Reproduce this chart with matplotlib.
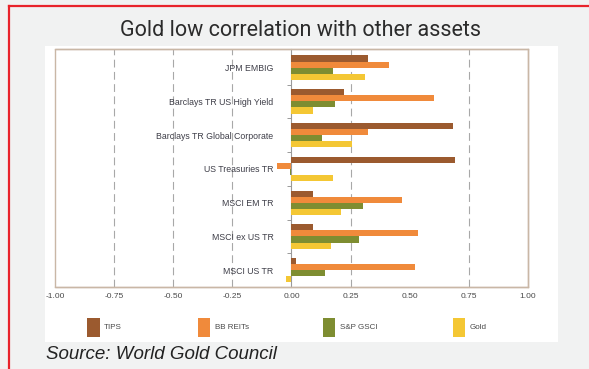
import numpy as np
import matplotlib
matplotlib.use("Agg")
import matplotlib.pyplot as plt
from matplotlib.patches import Rectangle

# ── data (top to bottom) ────────────────────────────────
categories = ["JPM EMBIG", "Barclays TR US High Yield", "Barclays TR Global Corporate",
              "US Treasuries TR", "MSCI EM TR", "MSCI ex US TR", "MSCI US TR"]
series = ["TIPS", "BB REITs", "S&P GSCI", "Gold"]
tips = [0.325, 0.223, 0.685, 0.693, 0.090, 0.090, 0.017]
reits = [0.414, 0.602, 0.325, -0.061, 0.468, 0.537, 0.524]
gsci = [0.177, 0.182, 0.129, -0.005, 0.301, 0.284, 0.141]
gold = [0.309, 0.092, 0.254, 0.174, 0.209, 0.169, -0.025]
x_ticks = [-1.0, -0.75, -0.5, -0.25, 0.0, 0.25, 0.5, 0.75, 1.0]
grid_at = [-0.75, -0.5, -0.25, 0.25, 0.75]

colors = ["#9b5a2f", "#f08a3b", "#7e8d31", "#f4c734"]
frame_col = "#c9b7a6"
text_col = "#4a4a4a"

plt.rcParams["font.family"] = ["Liberation Sans", "DejaVu Sans"]

fig = plt.figure(figsize=(5.89, 3.69), dpi=100, facecolor="#f1f2f2")

# white panel behind the chart
bg = fig.add_axes([0.0764, 0.073, 0.871, 0.802], zorder=0)
bg.set_facecolor("white")
bg.set_axis_off()
bg.add_patch(Rectangle((0, 0), 1, 1, transform=bg.transAxes, facecolor="white", edgecolor="none"))

# red outer border
fig.add_artist(plt.Line2D([0.0145, 0.0145], [0.0, 0.983], color="#e8232b", lw=1.6))
fig.add_artist(plt.Line2D([0.0145, 1.0], [0.983, 0.983], color="#e8232b", lw=1.6))

ax = fig.add_axes([0.0934, 0.222, 0.803, 0.645], zorder=2)
ax.set_facecolor("white")

y = np.arange(len(categories))
h = 0.18
for k, (vals, col) in enumerate(zip([tips, reits, gsci, gold], colors)):
    ax.barh(y + (k - 1.5) * h, vals, height=h, color=col, zorder=3)

ax.set_xlim(-1, 1)
ax.set_ylim(6.5, -0.55)

for g in grid_at:
    ax.axvline(g, color="#a8a8a8", lw=0.8, ls=(0, (7, 4)), zorder=1)

# zero axis with category labels
ax.spines["left"].set_position(("data", 0))
ax.spines["left"].set_color("#9a9a9a")
ax.spines["left"].set_linewidth(0.8)
ax.spines["left"].set_zorder(2)
ax.set_yticks(y)
ax.set_yticklabels(categories, fontsize=6.3, color="#3e3e48")
ax.set_yticks(y[:-1] + 0.5, minor=True)
ax.tick_params(axis="y", which="major", length=0, pad=13)
ax.tick_params(axis="y", which="minor", length=3, color="#9a9a9a", width=0.7)

for s in ["top", "right", "bottom"]:
    ax.spines[s].set_color(frame_col)
    ax.spines[s].set_linewidth(1.0)
ax.add_patch(Rectangle((0, 0), 1, 1, transform=ax.transAxes, fill=False,
                       edgecolor=frame_col, lw=1.0, clip_on=False, zorder=4))

ax.set_xticks(x_ticks)
ax.set_xticklabels([f"{v:.2f}" for v in x_ticks], fontsize=6.0, color=text_col)
ax.tick_params(axis="x", length=0, pad=4)

# legend
leg_x = [0.148, 0.336, 0.548, 0.769]
for xl, name, col in zip(leg_x, series, colors):
    fig.patches.append(Rectangle((xl, 0.087), 0.021, 0.05, transform=fig.transFigure,
                                 facecolor=col, edgecolor="none", zorder=3))
    fig.text(xl + 0.029, 0.112, name, fontsize=5.8, color=text_col, va="center")

fig.text(0.51, 0.918, "Gold low correlation with other assets", ha="center", va="center",
         fontsize=15.5, color="#2b2b2b", family=["Roboto", "DejaVu Sans"])
fig.text(0.078, 0.04, "Source: World Gold Council", ha="left", va="center",
         fontsize=13.5, style="italic", color="#222222")

fig.savefig("out.png", dpi=100, facecolor=fig.get_facecolor())
